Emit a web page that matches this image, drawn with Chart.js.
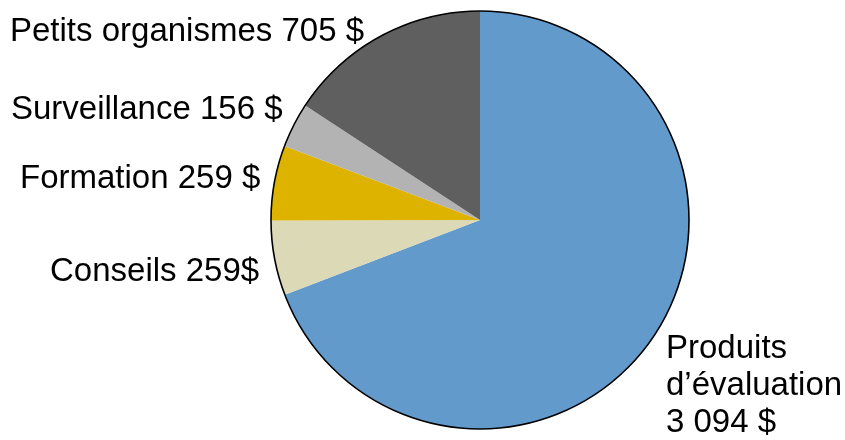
<!DOCTYPE html>
<html>
<head>
<meta charset="utf-8">
<script src="https://cdn.jsdelivr.net/npm/chart.js@4/dist/chart.umd.min.js"></script>
<style>
  html, body { margin: 0; padding: 0; background: #ffffff; }
  #wrap { width: 845px; height: 440px; }
</style>
</head>
<body>
<div id="wrap"><canvas id="pie" width="845" height="440"></canvas></div>
<script>
// Budget breakdown (in $), clockwise from the top
const categories = ["Produits d’évaluation", "Conseils", "Formation", "Surveillance", "Petits organismes"];
const amounts = [3094, 259, 259, 156, 705];
const sliceColors = ["#639acc", "#dbd9b6", "#ddb300", "#b3b3b3", "#5f5f5f"];

// Text shown beside each slice (one entry per line)
const labelLines = [
  ["Produits", "d’évaluation", "3 094 $"],
  ["Conseils 259$"],
  ["Formation 259 $"],
  ["Surveillance 156 $"],
  ["Petits organismes 705 $"]
];

// Where each label block sits on the canvas (left x, first baseline y)
const labelPlacement = [
  { x: 666, y: 358 },
  { x: 50, y: 281 },
  { x: 20, y: 188 },
  { x: 11, y: 119 },
  { x: 10, y: 41 }
];

const labelFont = "33px 'Liberation Sans', Arial, sans-serif";
const lineGap = 37;

const outlineAndLabels = {
  id: 'outlineAndLabels',
  afterDatasetsDraw(chart) {
    const ctx = chart.ctx;
    const arc = chart.getDatasetMeta(0).data[0];
    ctx.save();
    ctx.beginPath();
    ctx.arc(arc.x, arc.y, arc.outerRadius, 0, Math.PI * 2);
    ctx.lineWidth = 1.6;
    ctx.strokeStyle = '#000000';
    ctx.stroke();

    ctx.fillStyle = '#000000';
    ctx.font = labelFont;
    ctx.textAlign = 'left';
    ctx.textBaseline = 'alphabetic';
    labelLines.forEach((lines, i) => {
      const p = labelPlacement[i];
      lines.forEach((t, j) => ctx.fillText(t, p.x, p.y + j * lineGap));
    });
    ctx.restore();
  }
};

new Chart(document.getElementById('pie'), {
  type: 'pie',
  data: {
    labels: categories,
    datasets: [{
      data: amounts,
      backgroundColor: sliceColors,
      borderWidth: 0
    }]
  },
  options: {
    responsive: false,
    devicePixelRatio: 1,
    animation: false,
    layout: { padding: { left: 271, right: 156, top: 11, bottom: 11 } },
    plugins: {
      legend: { display: false },
      tooltip: { enabled: false }
    }
  },
  plugins: [outlineAndLabels]
});
</script>
</body>
</html>
